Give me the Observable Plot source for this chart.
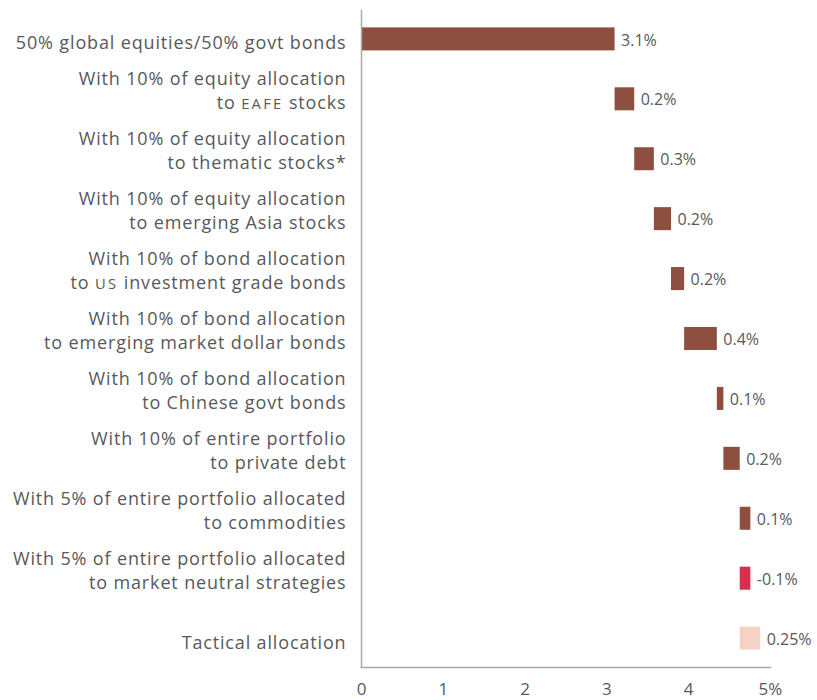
<!DOCTYPE html>
<html><head><meta charset="utf-8">
<script src="https://cdn.jsdelivr.net/npm/d3@7"></script>
<script src="https://cdn.jsdelivr.net/npm/@observablehq/plot@0.6"></script>
<style>body{margin:0;background:#fff;}</style>
</head><body><div id="chart"></div>
<script>
const categories = [
  "50% global equities/50% govt bonds",
  "With 10% of equity allocation\nto EAFE stocks",
  "With 10% of equity allocation\nto thematic stocks*",
  "With 10% of equity allocation\nto emerging Asia stocks",
  "With 10% of bond allocation\nto US investment grade bonds",
  "With 10% of bond allocation\nto emerging market dollar bonds",
  "With 10% of bond allocation\nto Chinese govt bonds",
  "With 10% of entire portfolio\nto private debt",
  "With 5% of entire portfolio allocated\nto commodities",
  "With 5% of entire portfolio allocated\nto market neutral strategies",
  "Tactical allocation"
];
const values = [3.1, 0.24, 0.24, 0.21, 0.16, 0.40, 0.08, 0.20, 0.13, -0.13, 0.25];
const valueLabels = ["3.1%", "0.2%", "0.3%", "0.2%", "0.2%", "0.4%", "0.1%", "0.2%", "0.1%", "-0.1%", "0.25%"];
const kinds = ["base", "increase", "increase", "increase", "increase", "increase", "increase", "increase", "increase", "decrease", "tactical"];
const xTicks = [0, 1, 2, 3, 4, 5];
const xTickLabels = ["0", "1", "2", "3", "4", "5%"];

let cum = 0;
const data = categories.map((c, i) => {
  const start = cum; cum += values[i];
  return {category: c, start, end: cum, label: valueLabels[i], kind: kinds[i]};
});

const chart = Plot.plot({
  width: 817, height: 700,
  marginLeft: 361, marginRight: 47, marginTop: 10, marginBottom: 33,
  style: {fontFamily: "'Open Sans', sans-serif", fontSize: "17px", color: "#58595b", background: "#fff"},
  x: {domain: [0, 5]},
  y: {domain: categories, paddingInner: 0.616, paddingOuter: 0.29, round: false},
  color: {domain: ["base", "increase", "decrease", "tactical"], range: ["#8d4f3f", "#8d4f3f", "#d7304f", "#f5d1c6"]},
  marks: [
    Plot.barX(data, {y: "category", x1: "start", x2: "end", fill: "kind"}),
    Plot.text(data, {y: "category", x: d => Math.max(d.start, d.end), text: "label", textAnchor: "start", dx: 6, dy: 1, fontSize: 16, fill: "#58595b"}),
    Plot.frame({anchor: "left", stroke: "#a7a9ac", strokeWidth: 1.5}),
    Plot.frame({anchor: "bottom", stroke: "#a7a9ac", strokeWidth: 1.5}),
    Plot.axisX({ticks: xTicks, tickFormat: d => xTickLabels[xTicks.indexOf(d)], tickSize: 0, tickPadding: 15, fontSize: 17, label: null}),
    Plot.axisY({tickSize: 0, tickPadding: 15, lineAnchor: "bottom", dy: 10, lineHeight: 1.333, fontSize: 18, label: null})
  ]
});
document.getElementById("chart").append(chart);

const yLabels = chart.querySelector('g[aria-label="y-axis tick label"]');
if (yLabels) yLabels.setAttribute("letter-spacing", "0.85px");

// small caps for acronyms
const NS = "http://www.w3.org/2000/svg";
chart.querySelectorAll("tspan, text").forEach(el => {
  if (el.children.length) return;
  const t = el.textContent;
  const m = t.match(/\b(EAFE|US)\b/);
  if (!m) return;
  el.textContent = "";
  el.appendChild(document.createTextNode(t.slice(0, m.index)));
  const sc = document.createElementNS(NS, "tspan");
  sc.setAttribute("font-size", "0.82em");
  sc.setAttribute("letter-spacing", "0.15em");
  sc.textContent = m[1];
  el.appendChild(sc);
  el.appendChild(document.createTextNode(t.slice(m.index + m[1].length)));
});
</script>
</body></html>
